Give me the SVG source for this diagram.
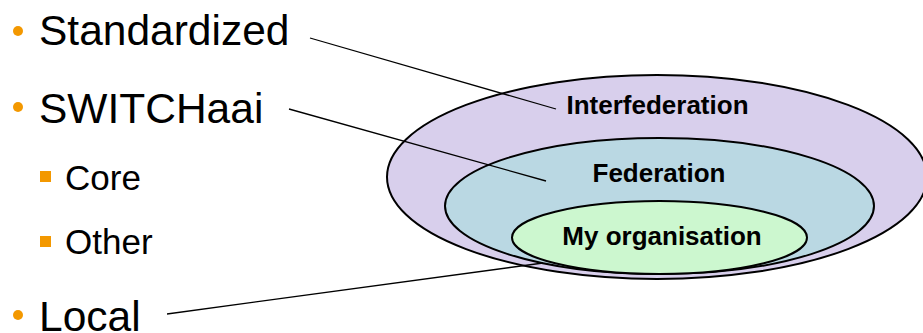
<svg xmlns="http://www.w3.org/2000/svg" width="923" height="333" viewBox="0 0 923 333">
<style>
.bul{font-family:"Liberation Sans",Arial,sans-serif;fill:#000}
.l1{font-size:42.5px}
.l2{font-size:35px}
.lab{font-family:"Liberation Sans",Arial,sans-serif;font-weight:bold;font-size:26px;fill:#000;text-anchor:middle}
.ell{stroke:#000;stroke-width:2}
.dot{fill:#F39800}
.con{stroke:#000;stroke-width:1.3;fill:none}
</style>
<rect width="923" height="333" fill="#fff"/>
<g id="bullets">
<g id="b-standardized"><circle class="dot" cx="18" cy="31" r="5"/><text class="bul l1" x="39" y="45">Standardized</text></g>
<g id="b-switchaai"><circle class="dot" cx="18" cy="107" r="5"/><text class="bul l1" x="39" y="123">SWITCHaai</text></g>
<g id="b-core"><rect class="dot" x="40" y="171" width="11" height="11"/><text class="bul l2" x="65" y="190">Core</text></g>
<g id="b-other"><rect class="dot" x="40" y="236" width="11" height="11"/><text class="bul l2" x="65" y="254">Other</text></g>
<g id="b-local"><circle class="dot" cx="18" cy="315" r="5"/><text class="bul l1" x="39" y="331">Local</text></g>
</g>
<g id="interfederation"><ellipse class="ell" cx="657" cy="177" rx="270" ry="102" fill="#D8CFEC"/><text class="lab" x="657.5" y="114">Interfederation</text></g>
<g id="federation"><ellipse class="ell" cx="659.5" cy="206" rx="214.5" ry="68" fill="#BAD8E3"/><text class="lab" x="659" y="182">Federation</text></g>
<g id="my-organisation"><ellipse class="ell" cx="659.5" cy="237.5" rx="147.5" ry="36.5" fill="#CCF7CF"/><text class="lab" x="662" y="245">My organisation</text></g>
<g id="connectors">
<line class="con" x1="310" y1="38" x2="556" y2="109"/>
<line class="con" x1="289" y1="109" x2="546" y2="181"/>
<line class="con" x1="167" y1="314" x2="543" y2="263"/>
</g>
</svg>
